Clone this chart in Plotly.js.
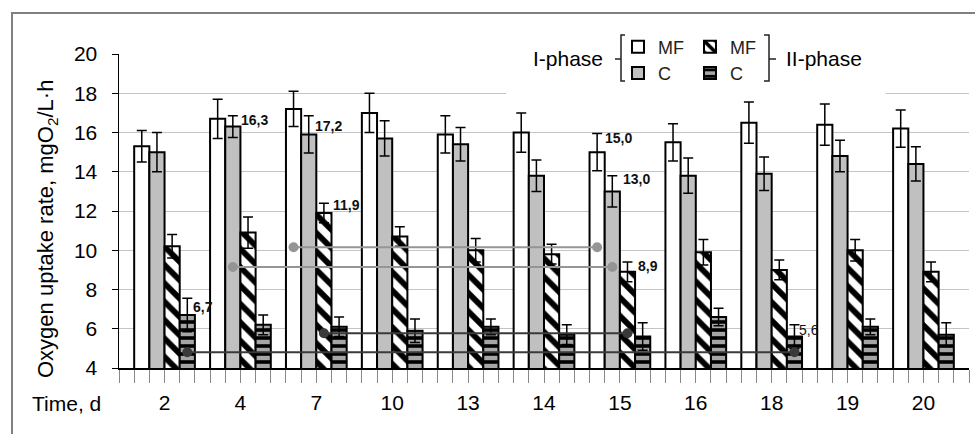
<!DOCTYPE html>
<html>
<head>
<meta charset="utf-8">
<script src="https://cdn.plot.ly/plotly-3.0.1.min.js"></script>
<style>html,body{margin:0;padding:0;background:#fff;}#chart{width:975px;height:434px;}</style>
</head>
<body>
<div id="chart"></div>
<script>
// ---- data ----
const days = ['2','4','7','10','13','14','15','16','18','19','20'];
const mf1 = [15.3,16.7,17.2,17.0,15.9,16.0,15.0,15.5,16.5,16.4,16.2];
const mf1Err = [0.8,1.0,0.9,1.0,0.95,1.0,0.95,0.95,1.05,1.05,0.95];
const c1 = [15.0,16.3,15.9,15.7,15.4,13.8,13.0,13.8,13.9,14.8,14.4];
const c1Err = [1.0,0.55,0.95,0.9,0.85,0.8,0.8,0.9,0.85,0.8,0.87];
const mf2 = [10.2,10.9,11.9,10.7,10.0,9.8,8.9,9.9,9.0,10.0,8.9];
const mf2Err = [0.6,0.8,0.5,0.5,0.6,0.5,0.5,0.65,0.5,0.55,0.5];
const c2 = [6.7,6.2,6.1,5.9,6.1,5.7,5.6,6.6,5.6,6.1,5.7];
const c2Err = [0.85,0.5,0.5,0.6,0.4,0.5,0.7,0.45,0.6,0.4,0.6];
const seriesNames = ['MF','C','MF','C'];

// comparison connectors (day from -> day to, series, level)
const cmpFrom = ['7','4','7','2'];
const cmpTo = ['15','15','15','18'];
const cmpSeries = [0,1,2,3];
const cmpLevel = [10.15,9.15,5.77,4.8];

// value labels: day, bar they sit beside, series whose value is shown
const labDays = ['2','4','7','7','15','15','15','18'];
const labAnchor = [3,1,1,2,0,1,2,3];
const labSource = [3,1,0,2,0,1,2,3];

// ---- chart ----
const vals = [mf1,c1,mf2,c2];
const errs = [mf1Err,c1Err,mf2Err,c2Err];
const idx = days.map((d,i)=>i);
const offs = [-0.3,-0.1,0.1,0.3];
const W=975,H=434,L=119,R=6,T=54,B=66;
const pw=W-L-R, ph=H-T-B;
const PX = p => (p-L)/pw;
const PY = p => (H-B-p)/ph;

const markers = [
  {color:'#ffffff', line:{color:'#000',width:2}},
  {color:'#c0c0c0', line:{color:'#000',width:2}},
  {color:'#ffffff', line:{color:'#000',width:2}, pattern:{shape:'\\', bgcolor:'#ffffff', fgcolor:'#000000', size:13, solidity:0.45, fillmode:'replace'}},
  {color:'#a6a6a6', line:{color:'#000',width:2}, pattern:{shape:'-', bgcolor:'#a6a6a6', fgcolor:'#000000', size:8, solidity:0.45, fillmode:'replace'}}
];
const legends = ['legend','legend','legend2','legend2'];

const traces = vals.map((v,s)=>({
  type:'bar', x:idx, y:v, name:seriesNames[s], marker:markers[s],
  legend:legends[s], legendgroup:'g'+s,
  error_y:{type:'data', array:errs[s], visible:true, color:'#000', thickness:1.5, width:5},
  hoverinfo:'skip'
}));

cmpFrom.forEach((d,k)=>{
  const s = cmpSeries[k];
  const col = s<2 ? '#959595' : '#3a3a3a';
  traces.push({
    type:'scatter', mode:'lines+markers',
    x:[days.indexOf(d)+offs[s], days.indexOf(cmpTo[k])+offs[s]],
    y:[cmpLevel[k], cmpLevel[k]],
    line:{color:col,width:2}, marker:{color:col,size:10},
    showlegend:false, hoverinfo:'skip'
  });
});

const labShiftX = [4,6,4,7,6,9,9,3];
const labShiftY = [-9,-4,-10,-2,-5,-3,-4,-5];
const annotations = labDays.map((d,k)=>{
  const i = days.indexOf(d), a = labAnchor[k];
  const v = vals[labSource[k]][i];
  return {
    x:i+offs[a], y:vals[a][i]+errs[a][i], xref:'x', yref:'y',
    text: v.toFixed(1).replace('.',','), showarrow:false,
    xanchor:'left', yanchor:'middle', xshift:labShiftX[k], yshift:labShiftY[k],
    font:{size:14, color:'#111', weight: k===7?'normal':'bold'}
  };
});
annotations.push(
  {xref:'paper', yref:'paper', x:PX(47), y:PY(229), textangle:-90, showarrow:false,
   text:'Oxygen uptake rate, mgO<sub>2</sub>/L·h', font:{size:22,color:'#000'}, xanchor:'center', yanchor:'middle'},
  {xref:'paper', yref:'paper', x:PX(66), y:PY(403), showarrow:false,
   text:'Time, d', font:{size:21,color:'#000'}, xanchor:'center', yanchor:'middle'},
  {xref:'paper', yref:'paper', x:PX(568), y:PY(58), showarrow:false,
   text:'I-phase', font:{size:21,color:'#000'}, xanchor:'center', yanchor:'middle'},
  {xref:'paper', yref:'paper', x:PX(824), y:PY(58), showarrow:false,
   text:'II-phase', font:{size:21,color:'#000'}, xanchor:'center', yanchor:'middle'}
);

const pth = pts => 'M'+pts.map(p=>PX(p[0])+','+PY(p[1])).join(' L');
const shapes = [
  {type:'rect', xref:'x', yref:'y', x0:4.5, x1:9.5, y0:17.6, y1:20.5, fillcolor:'#fff', line:{width:0}, layer:'between'},
  {type:'path', xref:'paper', yref:'paper', path:pth([[12,440],[12,13],[980,13]]), line:{color:'#808080',width:2}},
  // left brace
  {type:'path', xref:'paper', yref:'paper', path:pth([[625,35],[621,35],[621,81],[625,81]]), line:{color:'#222',width:1.5}},
  {type:'path', xref:'paper', yref:'paper', path:pth([[621,59],[615,59]]), line:{color:'#222',width:1.5}},
  // right brace
  {type:'path', xref:'paper', yref:'paper', path:pth([[764,35],[769,35],[769,81],[764,81]]), line:{color:'#222',width:1.5}},
  {type:'path', xref:'paper', yref:'paper', path:pth([[769,59],[776,59]]), line:{color:'#222',width:1.5}}
];

const legendBase = {orientation:'v', bgcolor:'rgba(0,0,0,0)', borderwidth:0,
  font:{size:18,color:'#222'}, tracegroupgap:4, yanchor:'middle', xanchor:'left',
  itemwidth:30, traceorder:'normal'};

const layout = {
  width:W, height:H, margin:{l:L,r:R,t:T,b:B},
  paper_bgcolor:'#fff', plot_bgcolor:'#fff',
  font:{family:'Liberation Sans, Arial, sans-serif', color:'#000'},
  barmode:'group', bargap:0.2, bargroupgap:0,
  xaxis:{range:[-0.6,10.6], tickmode:'array', tickvals:idx, ticktext:days,
    ticks:'outside', ticklen:13, tickcolor:'#888', tickwidth:1,
    minor:{ticks:'outside', ticklen:13, tickcolor:'#888', tickwidth:1, dtick:0.2, tick0:0, showgrid:false},
    showline:true, linecolor:'#000', linewidth:1.5, showgrid:false, zeroline:false,
    tickfont:{size:21}, ticklabelstandoff:2},
  yaxis:{range:[4,20], dtick:2, tick0:4, ticks:'outside', ticklen:6, tickcolor:'#000',
    showline:true, linecolor:'#000', linewidth:1.5, showgrid:true, gridcolor:'#c4c4c4', gridwidth:1,
    zeroline:false, tickfont:{size:21}, ticklabelstandoff:10},
  legend:Object.assign({}, legendBase, {x:PX(618), y:PY(60)}),
  legend2:Object.assign({}, legendBase, {x:PX(690), y:PY(60)}),
  annotations:annotations, shapes:shapes
};

Plotly.newPlot('chart', traces, layout, {staticPlot:true, displayModeBar:false});
</script>
</body>
</html>
